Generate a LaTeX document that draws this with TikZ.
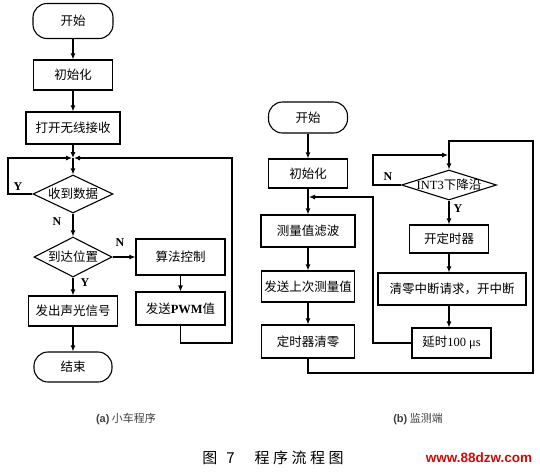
\documentclass[tikz,border=0pt]{standalone}
\usepackage{fontspec}
\setmainfont{Noto Sans CJK SC}
\newfontfamily\lat{Liberation Serif}
\newfontfamily\las{Liberation Sans}
\usetikzlibrary{arrows.meta,shapes.geometric,calc}
\begin{document}
\begin{tikzpicture}[x=1pt,y=-1pt,
  line width=1.1pt,
  every node/.style={font=\fontsize{12.5}{14}\selectfont, inner sep=0pt},
  box/.style={draw, rectangle},
  term/.style={draw, rectangle, rounded corners=14pt},
  dec/.style={draw, diamond},
  arr/.style={-{Latex[length=6pt,width=5pt]}},
  yn/.style={font=\fontsize{12}{14}\selectfont\lat\bfseries}
]
\useasboundingbox (0,0) rectangle (540,472);
% ---------- left chart ----------
\node[term, minimum width=80pt, minimum height=35pt] (s1) at (73,21) {开始};
\node[box, minimum width=79pt, minimum height=30pt] (i1) at (73,75) {初始化};
\node[box, minimum width=94pt, minimum height=32pt] (o1) at (73,128) {打开无线接收};
\coordinate (j1) at (73,158);
\node[dec, minimum width=80pt, minimum height=38pt] (d1) at (73,194) {\makebox[0pt]{收到数据}};
\node[dec, minimum width=78pt, minimum height=40pt] (d2) at (73,257) {\makebox[0pt]{到达位置}};
\node[box, minimum width=89pt, minimum height=36pt] (a1) at (180.5,257) {算法控制};
\node[box, minimum width=89pt, minimum height=33pt] (p1) at (180.5,308.5) {发送{\lat\bfseries PWM}值};
\node[box, minimum width=89pt, minimum height=30pt] (f1) at (73,311) {发出声光信号};
\node[term, minimum width=78pt, minimum height=30pt] (e1) at (73,367) {结束};
\coordinate (l1) at (8,194);
\coordinate (r1) at (232,343);

\draw[arr] (s1) -- (i1);
\draw[arr] (i1) -- (o1);
\draw[arr] (o1) -- (j1);
\draw[arr] (j1) -- (d1);
\draw[arr] (d1) -- (d2);
\draw[arr] (d2) -- (a1);
\draw[arr] (a1) -- (p1);
\draw[arr] (d2) -- (f1);
\draw[arr] (f1) -- (e1);
\draw[arr, shorten >=1pt] (d1.west) -- (l1) |- (j1);
\draw[arr, shorten >=1pt] (p1.south) |- (r1) |- (j1);

\node[yn] (ly1) at (18,187) {Y};
\node[yn] (ln1) at (57,222) {N};
\node[yn] (ln2) at (120,243) {N};
\node[yn] (ly2) at (85,283) {Y};

% ---------- right chart ----------
\node[term, minimum width=79pt, minimum height=31pt] (s2) at (308,117.5) {开始};
\node[box, minimum width=79pt, minimum height=29pt] (i2) at (308,173.5) {初始化};
\node[box, minimum width=94pt, minimum height=32pt] (m2) at (308,231) {测量值滤波};
\node[box, minimum width=93pt, minimum height=31pt] (t2) at (308,286.5) {发送上次测量值};
\node[box, minimum width=93pt, minimum height=33pt] (z2) at (308,341.5) {定时器清零};
\coordinate (mj) at (308,197);
\coordinate (ml) at (373,197);

\node[dec, minimum width=95pt, minimum height=30pt] (d3) at (449,185) {\makebox[0pt]{{\lat INT3}下降沿}};
\node[box, minimum width=79pt, minimum height=28pt] (k2) at (449,239) {开定时器};
\node[box, minimum width=148pt, minimum height=32pt] (q2) at (452,289) {清零中断请求，开中断};
\node[box, minimum width=79pt, minimum height=30pt] (y2) at (451.5,343) {延时{\lat 100 μs}};
\coordinate (nl) at (373,185);
\coordinate (nj) at (449,155);
\coordinate (rb) at (533,373);
\coordinate (rt) at (533,141);

\draw[arr] (s2) -- (i2);
\draw[arr] (i2) -- (m2);
\draw[arr] (m2) -- (t2);
\draw[arr] (t2) -- (z2);
\draw[arr, shorten >=1pt] (y2.west) -| (ml) -- (mj);
\draw[arr] (z2.south) |- (rb) -- (rt) -| (d3.north);
\draw[arr, shorten >=1pt] (d3.west) -- (nl) |- (nj);
\draw[arr] (d3.south) -- (d3.south |- k2.north);
\draw[arr] (k2.south) -- (k2.south |- q2.north);
\draw[arr] (k2.south |- q2.south) -- (k2.south |- y2.north);

\node[yn] (ln3) at (388,177) {N};
\node[yn] (ly3) at (458,209) {Y};

% ---------- captions ----------
\node[font=\fontsize{11}{13}\selectfont, text=black!75] (ca) at (126,419) {{\las\bfseries (a)} 小车程序};
\node[font=\fontsize{11}{13}\selectfont, text=black!75] (cb) at (418,419) {{\las\bfseries (b)} 监测端};
\node[font=\fontsize{15}{17}\selectfont] (ct) at (273,458) {图\hspace{9pt}7\hspace{20pt}程\hspace{3.5pt}序\hspace{3.5pt}流\hspace{3.5pt}程\hspace{3.5pt}图};
\node[font=\fontsize{13.5}{15}\selectfont\las\bfseries, text={rgb,255:red,205;green,10;blue,10}] (wm) at (479,458) {www.88dzw.com};
\end{tikzpicture}
\end{document}
